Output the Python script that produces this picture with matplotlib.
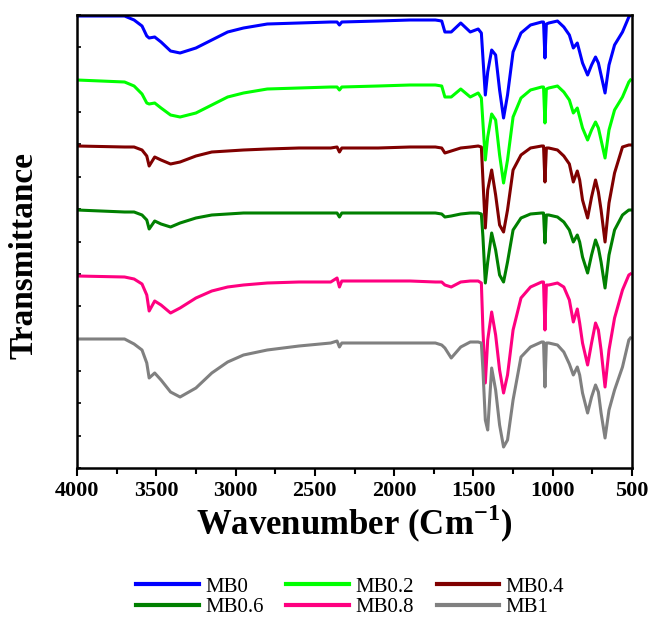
import matplotlib
matplotlib.use("Agg")
import matplotlib.pyplot as plt
from matplotlib.ticker import MultipleLocator, NullFormatter
import numpy as np

# ---------------- data (wavenumber in cm^-1, transmittance in a.u., stacked) ----------------
wavenumber = [4000, 3700, 3640, 3590, 3560, 3545, 3510, 3470, 3410, 3350,
              3250, 3150, 3050, 2950, 2800, 2600, 2400, 2360, 2345, 2330,
              2100, 1900, 1740, 1700, 1680, 1640, 1580, 1520, 1470, 1450,
              1440, 1425, 1410, 1385, 1360, 1335, 1310, 1285, 1250, 1200,
              1140, 1070, 1058, 1049, 1040, 1025, 970, 930, 895, 870,
              845, 830, 812, 780, 755, 730, 712, 695, 670, 645,
              610, 560, 520, 510]

mb0 = [452, 452, 448, 442, 432, 430, 431, 426, 417, 415,
       420, 428, 436, 440, 444, 445, 446, 446, 443, 446,
       447, 448, 448, 447, 436, 436, 445, 436, 439, 435,
       410, 373, 396, 418, 413, 378, 350, 373, 416, 435,
       443, 446, 446, 410, 444, 445, 447, 441, 433, 420,
       425, 416, 405, 393, 403, 411, 405, 393, 375, 403,
       423, 436, 451, 453]

mb02 = [388, 386, 382, 374, 365, 364, 365, 360, 353, 351,
        355, 363, 371, 375, 379, 380, 381, 381, 378, 381,
        382, 383, 383, 382, 371, 371, 379, 371, 375, 370,
        345, 308, 331, 354, 348, 313, 285, 308, 351, 370,
        378, 381, 381, 345, 379, 380, 382, 376, 368, 355,
        360, 351, 340, 328, 338, 346, 340, 328, 310, 338,
        358, 371, 386, 388]

mb04 = [322, 321, 321, 318, 312, 302, 311, 308, 304, 306,
        312, 316, 317, 318, 319, 320, 320, 321, 316, 320,
        320, 321, 321, 320, 315, 317, 320, 321, 322, 321,
        288, 240, 278, 298, 273, 243, 236, 258, 298, 313,
        320, 322, 322, 286, 320, 320, 318, 312, 304, 286,
        297, 288, 268, 250, 271, 288, 276, 258, 226, 265,
        295, 321, 323, 323]

mb06 = [258, 256, 256, 253, 248, 239, 247, 244, 241, 245,
        250, 253, 254, 255, 255, 255, 255, 255, 251, 255,
        255, 255, 255, 254, 251, 252, 254, 255, 255, 254,
        231, 185, 206, 235, 218, 193, 186, 206, 238, 250,
        254, 255, 255, 225, 253, 253, 251, 246, 238, 226,
        233, 226, 211, 195, 213, 228, 220, 206, 180, 213,
        238, 253, 258, 258]

mb08 = [192, 191, 189, 184, 173, 157, 167, 163, 155, 160,
        170, 177, 181, 183, 185, 186, 186, 190, 181, 187,
        187, 187, 186, 186, 183, 181, 186, 187, 187, 185,
        138, 85, 128, 156, 133, 98, 75, 93, 138, 170,
        181, 186, 186, 138, 183, 183, 185, 181, 168, 146,
        159, 145, 125, 103, 125, 145, 138, 118, 81, 118,
        150, 178, 193, 194]

mb1 = [129, 129, 124, 118, 105, 90, 95, 88, 76, 71,
       80, 95, 106, 113, 118, 122, 125, 127, 121, 125,
       125, 125, 125, 123, 120, 110, 121, 126, 126, 125,
       98, 48, 38, 100, 78, 43, 21, 28, 68, 111,
       121, 126, 126, 81, 125, 125, 123, 116, 104, 93,
       101, 93, 75, 55, 71, 83, 76, 55, 30, 58,
       78, 101, 128, 130]

labels = ["MB0", "MB0.2", "MB0.4", "MB0.6", "MB0.8", "MB1"]
colors = ["#0000FF", "#00FF00", "#800000", "#008000", "#FF0080", "#808080"]
series = [mb0, mb02, mb04, mb06, mb08, mb1]

# ---------------- style ----------------
plt.rcParams['font.family'] = ['Liberation Serif', 'DejaVu Serif']
plt.rcParams['mathtext.fontset'] = 'custom'
plt.rcParams['mathtext.rm'] = 'Liberation Serif'
plt.rcParams['mathtext.bf'] = 'Liberation Serif:bold'

fig = plt.figure(figsize=(6.52, 6.22), dpi=100)
ax = fig.add_axes([77/652, 1-468/622, 555/652, 453/622])

handles = []
for y, c, lab in zip(series, colors, labels):
    h, = ax.plot(wavenumber, y, color=c, lw=2.2, label=lab, solid_joinstyle='round')
    handles.append(h)

ax.set_xlim(4000, 500)
ax.set_ylim(0, 453)

ax.xaxis.set_major_locator(MultipleLocator(500))
ax.xaxis.set_minor_locator(MultipleLocator(250))
ax.yaxis.set_major_locator(MultipleLocator(453/14))
ax.yaxis.set_major_formatter(NullFormatter())

ax.tick_params(axis='x', which='major', direction='out', length=6, width=1.5,
               labelsize=16, pad=3)
ax.tick_params(axis='x', which='minor', direction='out', length=4, width=1.5)
ax.tick_params(axis='y', which='major', direction='in', length=3, width=1.2)
for lbl in ax.get_xticklabels():
    lbl.set_fontweight('bold')

for s in ax.spines.values():
    s.set_linewidth(1.8)

ax.set_xlabel(r'Wavenumber (Cm$^{\mathbf{-1}}$)', fontsize=25, fontweight='bold', labelpad=2)
ax.set_ylabel('Transmittance', fontsize=24, fontweight='bold')
ax.yaxis.set_label_coords(-0.068, 0.47)

# legend filled row by row (matplotlib fills column-wise, so reorder)
order = [0, 3, 1, 4, 2, 5]
leg = fig.legend([handles[i] for i in order], [labels[i] for i in order],
                 loc='upper center', bbox_to_anchor=(0.537, 1-577/622), ncol=3,
                 frameon=False, fontsize=15, handlelength=3.0, handletextpad=0.3,
                 columnspacing=1.1, labelspacing=0.05, borderaxespad=0,
                 borderpad=0)
for line in leg.get_lines():
    line.set_linewidth(3)

fig.savefig("out.png", dpi=100)
